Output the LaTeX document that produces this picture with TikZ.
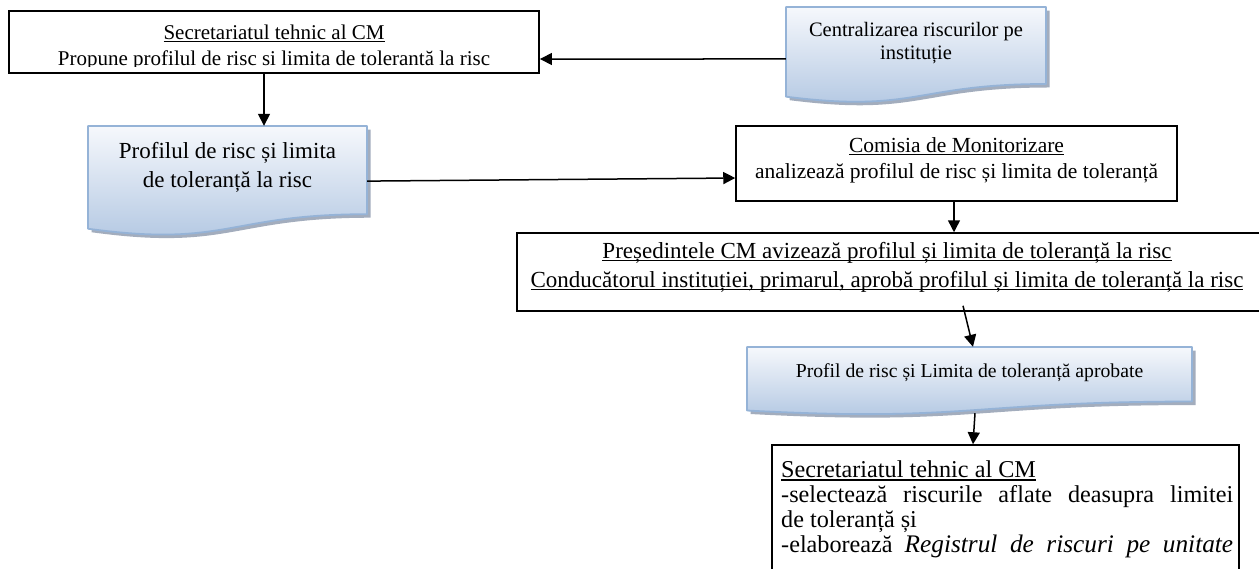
\documentclass[tikz,border=0pt]{standalone}
\usepackage{fontspec}
\setmainfont{Liberation Serif}
\usetikzlibrary{arrows.meta,calc}

\definecolor{docline}{HTML}{95B3D7}
\definecolor{doctop}{HTML}{F6F8FC}
\definecolor{docbot}{HTML}{AFC5E1}
\definecolor{docshadow}{HTML}{A3ADBD}

% font size in pt (1pt = one unit of the drawing)
\newcommand\fsz[1]{\fontsize{#1}{#1}\selectfont}
% underline at a fixed depth below the baseline
\newcommand\ulw[1]{\setbox0=\hbox{#1}\rlap{\rule[-0.15em]{\wd0}{0.06em}}\box0}

% flowchart "document" shape: name, left, top, right, height
\newcommand\docshape[5]{%
  \fill[docshadow,shift={(3.5,3.5)}] (#2,#3) -- (#4,#3) -- (#4,{#3+0.802*#5})
    .. controls ({(#2+#4)/2},{#3+0.802*#5}) and ({(#2+#4)/2},{#3+1.107*#5}) .. (#2,{#3+0.934*#5}) -- cycle;
  \shade[top color=doctop,bottom color=docbot] (#2,#3) -- (#4,#3) -- (#4,{#3+0.802*#5})
    .. controls ({(#2+#4)/2},{#3+0.802*#5}) and ({(#2+#4)/2},{#3+1.107*#5}) .. (#2,{#3+0.934*#5}) -- cycle;
  \draw[docline,line width=1.8pt,line join=round] (#2,#3) -- (#4,#3) -- (#4,{#3+0.802*#5})
    .. controls ({(#2+#4)/2},{#3+0.802*#5}) and ({(#2+#4)/2},{#3+1.107*#5}) .. (#2,{#3+0.934*#5}) -- cycle;
  \node[inner sep=0pt,minimum width={#4-#2},minimum height={0.802*#5}] (#1)
    at ({(#2+#4)/2},{#3+0.401*#5}) {};
}

\tikzset{
  plainbox/.style={draw=black,line width=1.5pt,inner sep=0pt},
  txt/.style={anchor=base,inner sep=0pt},
  arr/.style={line width=1.5pt,-{Triangle[length=12pt,width=12pt]}},
}

\begin{document}
\begin{tikzpicture}[x=1pt,y=-1pt]
\useasboundingbox (0,0) rectangle (1259,568);
\clip (0,0) rectangle (1259,568);
\fill[white] (0,0) rectangle (1259,568);

% --- top left: technical secretariat proposes ---
\node[plainbox,line width=1.9pt,minimum width=530pt,minimum height=62pt] (b1) at (274,42) {};
\begin{scope}
  \clip (9,11) rectangle (539,66);
  \node[txt,font=\fsz{21}] (b1t1) at (274,39) {\ulw{Secretariatul tehnic al CM}};
  \node[txt,font=\fsz{21}] (b1t2) at (274,65) {Propune profilul de risc si limita de tolerantă la risc};
\end{scope}

% --- top right: centralised risks ---
\docshape{cen}{786}{7}{1046}{96}
\node[txt,font=\fsz{20.5}] (cent1) at (916,36) {Centralizarea riscurilor pe};
\node[txt,font=\fsz{20.5}] (cent2) at (916,59) {instituție};

% --- risk profile document ---
\docshape{pro}{88}{126}{367}{110}
\node[txt,font=\fsz{23}] (prot1) at (227.5,158) {Profilul de risc și limita};
\node[txt,font=\fsz{23}] (prot2) at (227.5,187) {de toleranță la risc};

% --- monitoring commission ---
\node[plainbox,minimum width=441pt,minimum height=75pt] (com) at (956.5,163.5) {};
\node[txt,font=\fsz{21.5}] (comt1) at (956.5,152) {\ulw{Comisia de Monitorizare}};
\node[txt,font=\fsz{21.5}] (comt2) at (956.5,178) {analizează profilul de risc și limita de toleranță};

% --- president and head of institution ---
\node[plainbox,minimum width=745pt,minimum height=78pt] (pres) at (889.5,272) {};
\node[txt,font=\fsz{23}] (prest1) at (887,258) {\ulw{Președintele CM avizează profilul și limita de toleranță la risc}};
\node[txt,font=\fsz{23}] (prest2) at (887,287) {\ulw{Conducătorul instituției, primarul, aprobă profilul și limita de toleranță la risc}};

% --- approved profile document ---
\docshape{apr}{747}{347}{1192}{68}
\node[txt,font=\fsz{19.7}] (aprt) at (969.5,377) {Profil de risc și Limita de toleranță aprobate};

% --- bottom: risk register ---
\node[plainbox,minimum width=467pt,minimum height=155pt] (bot) at (1005.5,522.5) {};
\node[txt,anchor=base west,font=\fsz{24.2}] (bott1) at (781,477) {\ulw{Secretariatul tehnic al CM}};
\node[txt,anchor=base west,font=\fsz{24.2}] (bott2) at (781,502) {\makebox[452pt][s]{-selectează riscurile aflate deasupra limitei}};
\node[txt,anchor=base west,font=\fsz{24.2}] (bott3) at (781,527) {de toleranță și};
\node[txt,anchor=base west,font=\fsz{24.2}] (bott4) at (781,552) {\makebox[452pt][s]{-elaborează {\fsz{25.3}\itshape Registrul de riscuri pe unitate}}};

% --- connectors ---
\draw[arr] ([yshift=-13.5pt]cen.west) -- ([yshift=-17pt]b1.east);
\draw[arr] ([xshift=-10pt]b1.south) -- ([xshift=36.5pt]pro.north);
\draw[arr] ([yshift=-11pt]pro.east) -- ([yshift=-14.5pt]com.west);
\draw[arr] ([xshift=-2.5pt]com.south) -- ([xshift=64.5pt]pres.north);
\draw[arr] ([xshift=73.5pt,yshift=6pt]pres.south) -- ([xshift=3.5pt]apr.north);
\draw[arr] ([xshift=5.5pt,yshift=-11.5pt]apr.south) -- ([xshift=-32.5pt]bot.north);
\end{tikzpicture}
\end{document}
